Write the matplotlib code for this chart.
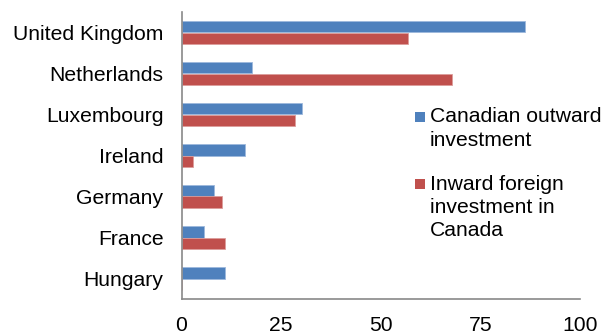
import numpy as np
import matplotlib.pyplot as plt
from matplotlib.patches import Rectangle

countries = ['United Kingdom', 'Netherlands', 'Luxembourg', 'Ireland',
             'Germany', 'France', 'Hungary']
outward = [86.2, 17.8, 30.2, 16.0, 8.2, 5.7, 10.9]
inward = [56.8, 68.0, 28.6, 2.9, 10.2, 11.0, 0.0]
xticks = [0, 25, 50, 75, 100]

blue = '#4F81BD'
red = '#C0504D'
fs = 15.2
plt.rcParams['font.family'] = ['Liberation Sans', 'DejaVu Sans']

fig = plt.figure(figsize=(6.1, 3.35), dpi=100)
ax = fig.add_axes([181.5/610, 36/335, (580-181.5)/610, (299-12)/335])

y = np.arange(len(countries))
h = 0.28
ax.barh(y - h/2, outward, height=h, color=blue, edgecolor='#9DB8DC', linewidth=0.6)
ax.barh(y + h/2, inward, height=h, color=red, edgecolor='#DC9D9B', linewidth=0.6)

ax.set_ylim(len(countries) - 0.5, -0.5)
ax.set_xlim(0, 100)
ax.set_yticks(y)
ax.set_yticklabels(countries, fontsize=fs)
ax.set_xticks(xticks)
ax.set_xticklabels([str(v) for v in xticks], fontsize=fs)
ax.tick_params(axis='y', length=0, pad=13)
ax.tick_params(axis='x', length=0, pad=12)

for s in ['top', 'right']:
    ax.spines[s].set_visible(False)
for s in ['left', 'bottom']:
    ax.spines[s].set_color('#898989')
    ax.spines[s].set_linewidth(1.2)

# legend drawn by hand so the squares sit at the first text line
def px(x, yy):
    return x / 610, 1 - yy / 335

for (sq_y, lines, c) in [(112, ['Canadian outward', 'investment'], blue),
                         (179, ['Inward foreign', 'investment in', 'Canada'], red)]:
    x0, y0 = px(415, sq_y + 10)
    fig.patches.append(Rectangle((x0, y0), 10/610, 10/335, transform=fig.transFigure,
                                 facecolor=c, edgecolor='none'))
    for i, t in enumerate(lines):
        tx, ty = px(430, sq_y + 5 + i * 23.5)
        fig.text(tx, ty, t, fontsize=fs, va='center', ha='left')

fig.savefig('out.png', dpi=100)
